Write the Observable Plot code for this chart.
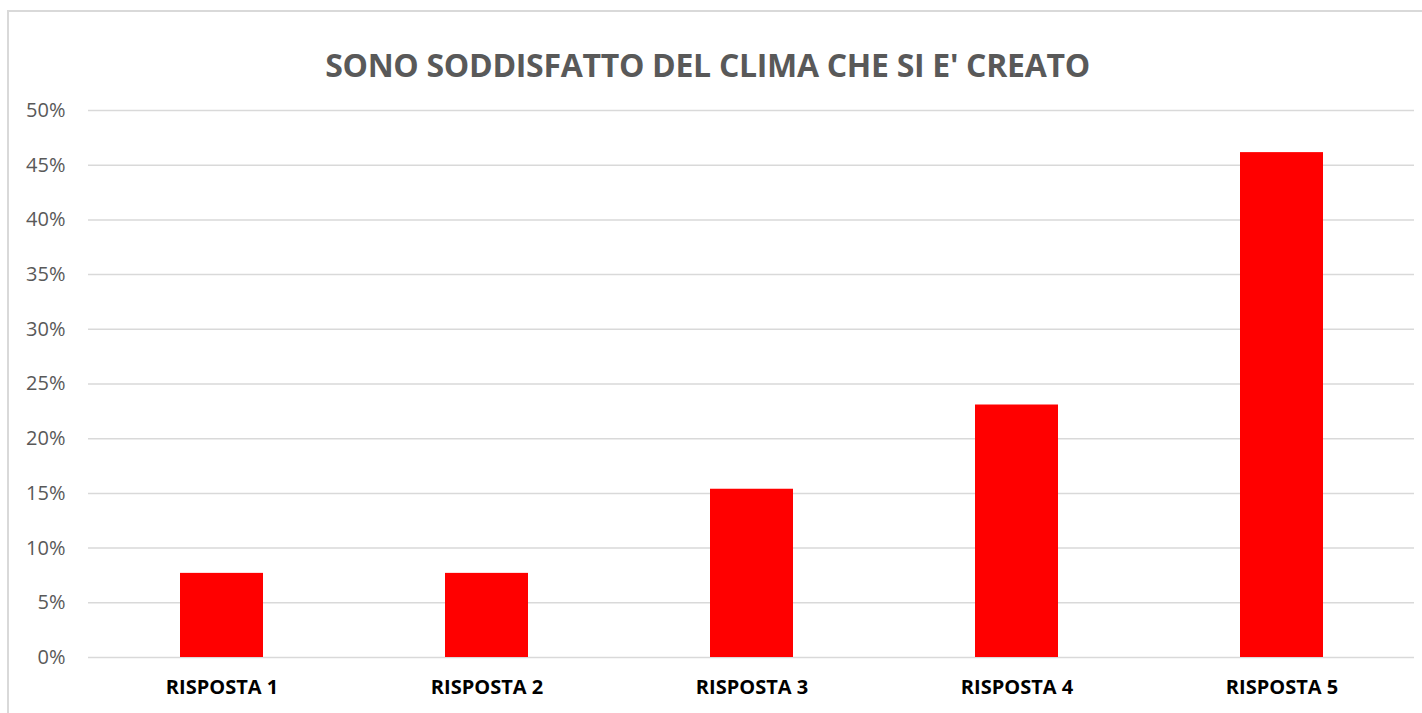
<!DOCTYPE html>
<html><head><meta charset="utf-8">
<script src="https://cdn.jsdelivr.net/npm/d3@7"></script>
<script src="https://cdn.jsdelivr.net/npm/@observablehq/plot@0.6"></script>
<style>
html,body{margin:0;padding:0;background:#fff;width:1422px;height:713px;overflow:hidden;}
#frame{position:absolute;left:7px;top:10px;width:1430px;height:720px;border:2px solid #d9d9d9;box-sizing:border-box;}
#title{position:absolute;left:0;width:1415px;top:43px;text-align:center;font-family:"Open Sans",sans-serif;font-weight:700;font-size:32px;color:#595959;letter-spacing:-0.3px;}
#chart{position:absolute;left:0;top:0;}
</style></head><body>
<div id="frame"></div>
<div id="title">SONO SODDISFATTO DEL CLIMA CHE SI E' CREATO</div>
<div id="chart"></div>
<script>
const categories = ["RISPOSTA 1","RISPOSTA 2","RISPOSTA 3","RISPOSTA 4","RISPOSTA 5"];
const values = [0.0769, 0.0769, 0.1538, 0.2308, 0.4615];
const yTicks = [0,0.05,0.10,0.15,0.20,0.25,0.30,0.35,0.40,0.45,0.50];
const data = categories.map((c,i)=>({cat:c, v:values[i]}));
const chart = Plot.plot({
  width:1422, height:713,
  marginTop:110, marginBottom:56, marginLeft:88, marginRight:8,
  style:{background:"transparent", fontFamily:"'Open Sans', sans-serif"},
  x:{domain:categories, paddingInner:0.687, paddingOuter:0.3435, label:null, tickSize:0, tickPadding:22},
  y:{domain:[0,0.5], ticks:yTicks, tickFormat:d=>Math.round(d*100)+"%", label:null, tickSize:0, tickPadding:23},
  marks:[
    Plot.ruleY(yTicks,{stroke:"#d9d9d9", strokeWidth:1.5, strokeOpacity:1}),
    Plot.barY(data,{x:"cat", y:"v", fill:"#ff0000"}),
    Plot.axisY({ticks:yTicks, tickFormat:d=>Math.round(d*100)+"%", tickSize:0, tickPadding:23, fontSize:20, fill:"#595959", label:null}),
    Plot.axisX({tickSize:0, tickPadding:22, fontSize:20, fontWeight:700, fill:"#000", label:null})
  ]
});
document.getElementById("chart").appendChild(chart);
</script>
</body></html>
